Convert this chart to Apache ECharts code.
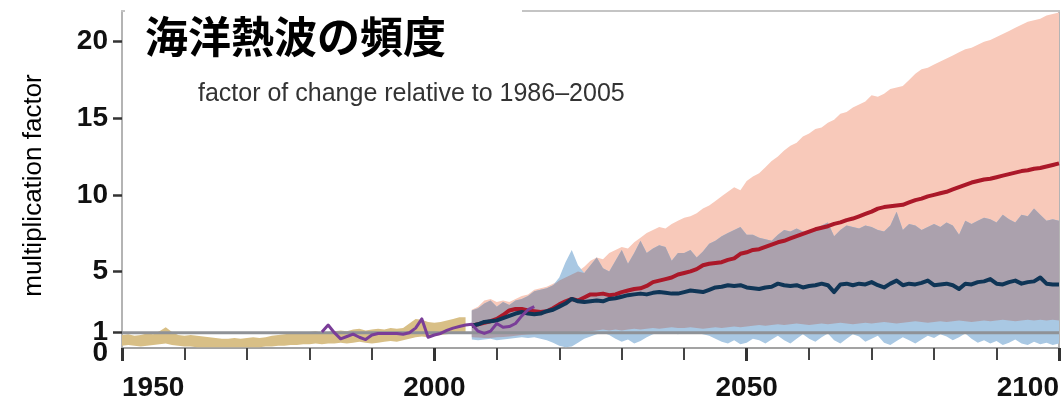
<!DOCTYPE html>
<html>
<head>
<meta charset="utf-8">
<script src="https://cdn.jsdelivr.net/npm/echarts@6/dist/echarts.min.js"></script>
<style>
  html, body { margin: 0; padding: 0; background: #fff; }
  #chart { width: 1064px; height: 408px; }
</style>
</head>
<body>
<div id="chart"></div>
<script>
// ---- data -------------------------------------------------------------
const titleText = '海洋熱波の頻度';
const subtitleText = 'factor of change relative to 1986–2005';
const yAxisName = 'multiplication factor';
const xTickYears = [1950, 2000, 2050, 2100];
const yTickValues = [1, 5, 10, 15, 20];
const yLabelValues = [5, 10, 15, 20];
const yBaselineLabel = [1];
const yZeroLabel = [0];

// historical model range, 1950-2005
const histStart = 1950;
const histLow = [0.15, 0.2, 0.15, 0.1, 0.15, 0.2, 0.25, 0.3, 0.2, 0.15,
  0.1, 0.1, 0.05, 0.05, 0.05, 0.05, 0.05, 0.05, 0.05, 0.05,
  0.05, 0.05, 0.05, 0.1, 0.1, 0.15, 0.15, 0.2, 0.2, 0.25,
  0.25, 0.3, 0.25, 0.3, 0.3, 0.35, 0.3, 0.35, 0.4, 0.35,
  0.3, 0.35, 0.4, 0.45, 0.4, 0.5, 0.6, 0.7, 0.75, 0.7,
  0.8, 0.85, 0.9, 0.95, 1.0, 1.0];
const histHigh = [0.85, 0.9, 0.8, 0.85, 0.95, 0.9, 1.1, 1.35, 1.05, 0.85,
  0.8, 0.85, 0.8, 0.75, 0.7, 0.65, 0.6, 0.6, 0.65, 0.6,
  0.65, 0.7, 0.65, 0.7, 0.8, 0.85, 0.9, 0.95, 1.0, 0.95,
  1.05, 1.1, 1.0, 1.05, 1.1, 1.15, 1.1, 1.2, 1.25, 1.15,
  1.2, 1.25, 1.2, 1.3, 1.25, 1.3, 1.6, 1.9, 1.85, 1.7,
  1.65, 1.7, 1.8, 1.9, 2.0, 2.0];

// observations, 1982-2016
const obsStart = 1982;
const obsValues = [1.05, 1.5, 1.0, 0.6, 0.75, 0.9, 0.7, 0.55, 0.85, 0.95,
  0.95, 0.95, 0.95, 0.9, 1.0, 1.3, 1.9, 0.7, 0.85, 0.95,
  1.15, 1.3, 1.4, 1.5, 1.55, 1.1, 0.95, 1.1, 1.6, 1.35,
  1.4, 1.6, 2.1, 2.5, 2.7];

// projections, 2006-2100
const projStart = 2006;
const rcp85High = [2.5, 2.7, 3.1, 3.2, 3.0, 3.1, 3.0, 3.2, 3.4, 3.5,
  3.8, 3.9, 4.0, 4.2, 4.4, 4.6, 4.8, 5.0, 5.3, 5.7,
  5.9, 5.8, 6.2, 6.4, 6.6, 6.5, 6.9, 7.2, 7.5, 7.7,
  7.9, 7.8, 8.1, 8.3, 8.5, 8.6, 8.8, 9.1, 9.3, 9.6,
  9.9, 10.2, 10.5, 10.3, 10.9, 11.2, 11.4, 11.8, 12.2, 12.5,
  12.9, 13.2, 13.4, 13.8, 14.0, 14.3, 14.4, 14.7, 14.9, 15.3,
  15.4, 15.7, 15.9, 16.1, 16.5, 16.4, 16.6, 16.9, 17.0, 17.1,
  17.5, 17.9, 18.2, 18.3, 18.5, 18.7, 18.9, 19.1, 19.3, 19.5,
  19.6, 19.8, 20.0, 20.1, 20.3, 20.5, 20.7, 20.9, 21.1, 21.3,
  21.4, 21.5, 21.7, 21.8, 21.9];
const rcp85Low = [0.7, 0.68, 0.65, 0.66, 0.7, 0.72, 0.75, 0.8, 0.85, 0.88,
  0.9, 0.92, 0.95, 0.95, 1.0, 1.02, 1.05, 1.05, 1.08, 1.1,
  1.15, 1.2, 1.15, 1.2, 1.15, 1.2, 1.25, 1.2, 1.25, 1.3,
  1.25, 1.3, 1.35, 1.3, 1.3, 1.35, 1.3, 1.25, 1.3, 1.35,
  1.3, 1.35, 1.4, 1.35, 1.4, 1.45, 1.5, 1.45, 1.5, 1.55,
  1.5, 1.55, 1.6, 1.55, 1.5, 1.55, 1.6, 1.55, 1.6, 1.65,
  1.6, 1.55, 1.6, 1.65, 1.6, 1.65, 1.7, 1.65, 1.6, 1.65,
  1.7, 1.75, 1.7, 1.65, 1.7, 1.75, 1.7, 1.75, 1.8, 1.75,
  1.7, 1.75, 1.8, 1.75, 1.8, 1.85, 1.8, 1.75, 1.8, 1.85,
  1.8, 1.85, 1.8, 1.85, 1.8];
const rcp26High = [2.45, 2.6, 2.9, 3.1, 2.7, 3.0, 2.8, 3.1, 3.2, 3.4,
  3.7, 3.8, 3.9, 4.1, 4.6, 5.6, 6.4, 5.4, 4.9, 5.4,
  5.9, 5.2, 5.0, 5.7, 6.4, 5.5, 6.2, 7.0, 6.2, 6.5,
  6.7, 6.6, 5.7, 6.2, 6.2, 6.4, 5.9, 6.3, 6.8, 7.0,
  7.3, 7.5, 7.7, 7.9, 7.4, 7.4, 7.2, 7.1, 7.0, 7.4,
  7.7, 7.6, 7.8, 7.6, 7.5, 7.8, 8.0, 8.2, 7.3, 7.7,
  8.0, 7.9, 7.8, 8.0, 7.9, 7.7, 7.6, 8.0, 8.9, 7.7,
  8.1, 8.0, 7.7, 7.9, 8.1, 7.9, 8.2, 8.0, 7.4, 8.3,
  8.1, 8.3, 8.5, 8.4, 8.2, 8.7, 8.4, 8.2, 8.7, 8.6,
  9.1, 8.7, 8.3, 8.4, 8.3];
const rcp26Low = [0.55, 0.5, 0.55, 0.6, 0.5, 0.55, 0.6, 0.65, 0.7, 0.65,
  0.7, 0.6, 0.5, 0.35, 0.15, 0.05, 0.1, 0.35, 0.6, 0.75,
  0.9, 1.0, 0.85, 0.6, 0.4, 0.55, 0.3, 0.45, 0.7, 0.9,
  1.0, 0.95, 1.0, 0.9, 1.0, 0.95, 1.0, 0.9, 0.8, 0.6,
  0.4, 0.3, 0.5, 0.25, 0.35, 0.6, 0.5, 0.3, 0.55, 0.8,
  0.5, 0.3, 0.6, 0.9, 0.6, 0.4, 0.7, 0.95, 0.5, 0.3,
  0.6, 0.9, 0.75, 0.4, 0.6, 0.8, 0.35, 0.2, 0.45, 0.7,
  0.5, 0.3, 0.55, 0.8, 0.65, 0.9, 0.75, 0.5, 0.7, 0.95,
  0.6, 0.35, 0.5, 0.3, 0.45, 0.2, 0.35, 0.55, 0.3, 0.2,
  0.4, 0.25, 0.35, 0.2, 0.3];
const rcp85Median = [1.45, 1.55, 1.65, 1.75, 1.9, 2.15, 2.45, 2.55, 2.55, 2.45,
  2.4, 2.35, 2.4, 2.6, 2.85, 3.05, 3.2, 3.1, 3.3, 3.5,
  3.5, 3.55, 3.45, 3.5, 3.65, 3.75, 3.85, 3.9, 4.05, 4.3,
  4.4, 4.5, 4.6, 4.8, 4.9, 5.0, 5.15, 5.4, 5.5, 5.55,
  5.6, 5.75, 5.85, 6.15, 6.25, 6.4, 6.45, 6.6, 6.75, 6.9,
  7.0, 7.15, 7.3, 7.45, 7.6, 7.75, 7.85, 7.95, 8.1, 8.2,
  8.35, 8.45, 8.6, 8.75, 8.9, 9.1, 9.2, 9.25, 9.3, 9.35,
  9.5, 9.65, 9.75, 9.9, 10.0, 10.1, 10.2, 10.35, 10.5, 10.65,
  10.8, 10.9, 11.0, 11.05, 11.15, 11.25, 11.35, 11.45, 11.55, 11.6,
  11.7, 11.75, 11.85, 11.95, 12.05];
const rcp26Median = [1.45, 1.55, 1.7, 1.75, 1.8, 1.95, 2.1, 2.25, 2.35, 2.25,
  2.2, 2.25, 2.4, 2.5, 2.7, 2.9, 3.2, 3.05, 3.0, 3.05,
  3.1, 3.05, 3.2, 3.25, 3.35, 3.45, 3.5, 3.55, 3.5, 3.6,
  3.65, 3.6, 3.55, 3.55, 3.65, 3.75, 3.7, 3.65, 3.8, 3.95,
  4.0, 4.1, 4.05, 4.1, 3.95, 3.9, 3.85, 3.95, 4.0, 4.2,
  4.1, 4.05, 4.1, 3.95, 4.05, 4.1, 4.2, 4.1, 3.65, 4.15,
  4.2, 4.1, 4.2, 4.15, 4.3, 4.1, 3.95, 4.2, 4.4, 4.1,
  4.2, 4.15, 4.25, 4.4, 4.1, 4.15, 4.2, 4.1, 3.85, 4.2,
  4.15, 4.3, 4.35, 4.5, 4.2, 4.15, 4.3, 4.4, 4.2, 4.3,
  4.35, 4.6, 4.2, 4.15, 4.15];

// ---- helpers ----------------------------------------------------------
const COLORS = {
  hist: '#d8bf86',
  pink: '#f8c9ba',
  blue: '#a9c8e3',
  overlap: '#aba1ad',
  refLine: '#8f9297',
  red: '#ab1829',
  navy: '#0f3556',
  purple: '#7a3d98'
};
const NUM_FONT = "'Liberation Sans', Arial, sans-serif";
const SANS = "'Liberation Sans', Arial, sans-serif";
const NUM_LABEL = { fontFamily: NUM_FONT, fontWeight: 'bold', fontSize: 28, color: '#111' };

function pairs(start, values) {
  return values.map((v, i) => [start + i, v]);
}

// A filled range between a lower and an upper edge, drawn as one polygon
// whose vertices come from the cartesian coordinate system.
function bandSeries(id, start, low, high, color) {
  return {
    name: id, type: 'custom', coordinateSystem: 'cartesian2d', silent: true,
    data: [[start, low[0]]],
    clip: true,
    renderItem: (params, api) => {
      const upper = high.map((h, i) => api.coord([start + i, h]));
      const lower = low.map((l, i) => api.coord([start + i, l])).reverse();
      return {
        type: 'polygon',
        shape: { points: upper.concat(lower) },
        style: { fill: color, stroke: null },
        silent: true
      };
    }
  };
}

// where the two scenario ranges overlap
const overlapLow = rcp85Low.map((v, i) => Math.max(v, rcp26Low[i]));
const overlapHigh = rcp85High.map((v, i) => Math.max(Math.min(v, rcp26High[i]), overlapLow[i]));

function lineSeries(name, start, values, color, width) {
  return {
    name, type: 'line', symbol: 'none', silent: true,
    lineStyle: { color, width, join: 'round' },
    data: pairs(start, values)
  };
}

// a label-only left axis on the same 0-22 scale (used for the crowded labels near zero)
function labelAxis(values, extra) {
  return {
    type: 'value', min: 0, max: 22, position: 'left', offset: 0,
    axisLine: { show: false }, axisTick: { show: false }, splitLine: { show: false },
    axisLabel: Object.assign({
      margin: 14, customValues: values, formatter: v => String(v),
      showMinLabel: true, showMaxLabel: true
    }, NUM_LABEL, extra)
  };
}

// ---- chart ------------------------------------------------------------
const chart = echarts.init(document.getElementById('chart'), null, { renderer: 'canvas' });

const option = {
  animation: false,
  backgroundColor: '#ffffff',
  grid: { left: 122, right: 5, top: 11, bottom: 60, containLabel: false },
  title: [
    {
      text: titleText, left: 145, top: 15, padding: 0,
      textStyle: { fontFamily: "'Noto Sans CJK JP', sans-serif", fontSize: 43, fontWeight: 'bold', color: '#000' },
      z: 10
    },
    {
      text: subtitleText, left: 198, top: 82, padding: 0,
      textStyle: { fontFamily: SANS, fontSize: 25, fontWeight: 'normal', color: '#333' },
      z: 10
    }
  ],
  graphic: [
    { type: 'rect', left: 125, top: 0, shape: { width: 397, height: 30 }, style: { fill: '#fff' }, z: 5, silent: true }
  ],
  xAxis: [
    {
      type: 'value', min: 1950, max: 2100, interval: 50, position: 'bottom',
      axisLine: { show: true, onZero: false, lineStyle: { color: '#a3a3a3', width: 2 } },
      axisTick: { show: true, length: 13, customValues: xTickYears, lineStyle: { color: '#333', width: 3 } },
      minorTick: { show: true, splitNumber: 5, length: 12, lineStyle: { color: '#444', width: 2 } },
      axisLabel: Object.assign({
        margin: 26, customValues: xTickYears, formatter: v => String(v),
        showMinLabel: true, showMaxLabel: true,
        alignMinLabel: 'left', alignMaxLabel: 'right'
      }, NUM_LABEL),
      splitLine: { show: false }
    },
    {
      type: 'value', min: 1950, max: 2100, position: 'top',
      axisLine: { show: true, onZero: false, lineStyle: { color: '#c4c4c4', width: 2 } },
      axisTick: { show: false }, axisLabel: { show: false }, splitLine: { show: false }
    }
  ],
  yAxis: [
    {
      type: 'value', min: 0, max: 22, position: 'left',
      name: yAxisName, nameLocation: 'middle', nameGap: 75, nameRotate: 90,
      nameTextStyle: { fontFamily: SANS, fontSize: 26, color: '#000', padding: [0, 12, 0, 0] },
      axisLine: { show: true, onZero: false, lineStyle: { color: '#b4b4b4', width: 2 } },
      axisTick: { show: true, length: 9, customValues: yTickValues, lineStyle: { color: '#333', width: 2.5 } },
      axisLabel: Object.assign({
        margin: 14, customValues: yLabelValues, formatter: v => String(v),
        showMinLabel: true, showMaxLabel: true
      }, NUM_LABEL),
      splitLine: { show: false }
    },
    {
      type: 'value', min: 0, max: 22, position: 'right',
      axisLine: { show: true, onZero: false, lineStyle: { color: '#b4b4b4', width: 2 } },
      axisTick: { show: true, inside: true, length: 8, customValues: yTickValues, lineStyle: { color: '#555', width: 2 } },
      axisLabel: { show: false }, splitLine: { show: false }
    },
    labelAxis(yBaselineLabel, {}),
    labelAxis(yZeroLabel, { verticalAlign: 'top', lineHeight: 10 })
  ],
  series: [
    bandSeries('rcp85-range', projStart, rcp85Low, rcp85High, COLORS.pink),
    bandSeries('rcp26-range', projStart, rcp26Low, rcp26High, COLORS.blue),
    bandSeries('overlap-range', projStart, overlapLow, overlapHigh, COLORS.overlap),
    bandSeries('hist-range', histStart, histLow, histHigh, COLORS.hist),
    {
      name: 'reference', type: 'line', symbol: 'none', silent: true,
      lineStyle: { color: COLORS.refLine, width: 3 },
      data: [[1950, 1], [2100, 1]]
    },
    lineSeries('RCP8.5', projStart, rcp85Median, COLORS.red, 4),
    lineSeries('RCP2.6', projStart, rcp26Median, COLORS.navy, 4),
    lineSeries('observed', obsStart, obsValues, COLORS.purple, 3)
  ]
};

chart.setOption(option);
</script>
</body>
</html>
